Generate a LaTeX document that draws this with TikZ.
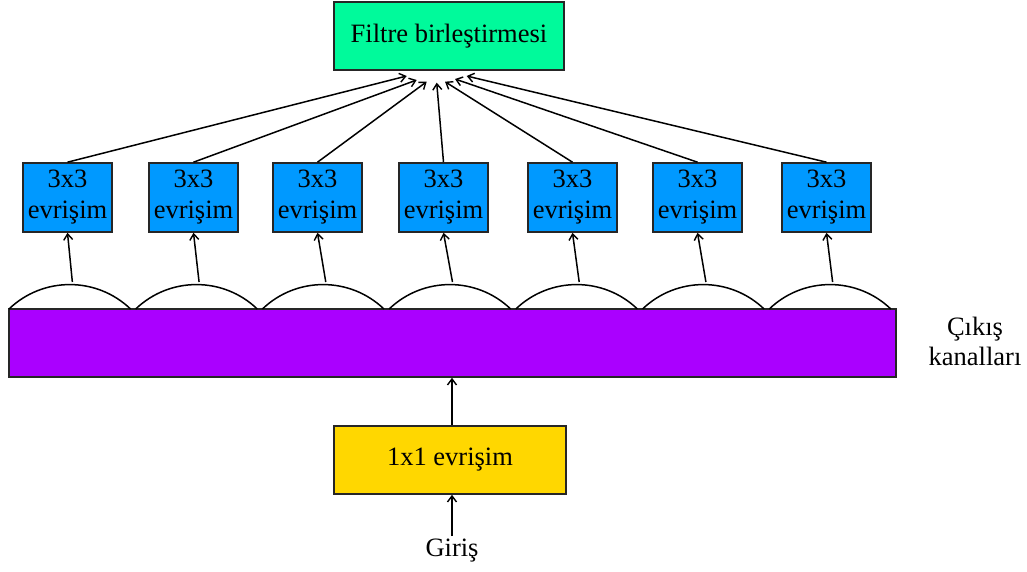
\documentclass[tikz,border=0pt]{standalone}
\usepackage{fontspec}
\setmainfont{Liberation Serif}
\usetikzlibrary{arrows.meta,calc}
\definecolor{mint}{RGB}{0,250,155}
\definecolor{skyblue}{RGB}{0,153,255}
\definecolor{violetbar}{RGB}{170,0,255}
\definecolor{goldbox}{RGB}{255,215,0}
\begin{document}
\begin{tikzpicture}[x=1pt,y=-1pt,
  every node/.style={font=\fontsize{26.5}{30}\selectfont, inner sep=0pt},
  boxst/.style={draw=black!85, line width=1.6pt},
  conv/.style={boxst, fill=skyblue, minimum width=89pt, minimum height=69pt, align=center},
  arr/.style={-{Straight Barb[length=6pt,width=9pt,line width=1.4pt]}, line width=1.5pt},
  arcst/.style={line width=1.5pt}]
\useasboundingbox (0,0) rectangle (1027,572);
% top box
\node[boxst, fill=mint, minimum width=230pt, minimum height=68pt] (top) at (449,36) {Filtre birleştirmesi};
% 3x3 boxes
\foreach \i/\x in {1/67.5,2/193.5,3/317.5,4/443.5,5/572.5,6/697.5,7/826.5}{
  \node[conv] (b\i) at (\x,197.5) {3x3\\[1pt]evrişim};
}
% arrow targets under the top box
\coordinate (t1) at (406.7,76);
\coordinate (t2) at (416.7,80);
\coordinate (t3) at (426.7,81.7);
\coordinate (t4) at (436.7,82.7);
\coordinate (t5) at (445,81.7);
\coordinate (t6) at (455,79);
\coordinate (t7) at (466.7,76);
\foreach \i in {1,...,7}{ \draw[arr] (b\i.north) -- (t\i); }
% purple bar
\node[boxst, fill=violetbar, minimum width=887pt, minimum height=68pt] (bar) at (452.5,343) {};
% arcs
\foreach \i in {1,...,7}{
  \pgfmathsetmacro{\xl}{9+126.71*(\i-1)}
  \pgfmathsetmacro{\xc}{9+126.71*(\i-0.5)}
  \draw[arcst] (\xl,309) arc[start angle=-133.8, end angle=-46.2, radius=87.8];
  \coordinate (a\i) at (\xc,282);
  \draw[arr] (a\i) -- (b\i.south);
}
% 1x1 box
\node[boxst, fill=goldbox, minimum width=232pt, minimum height=68pt] (one) at (450,460) {1x1 evrişim};
\draw[arr] ($(one.north)+(2,0)$) coordinate (onetop) -- (onetop |- bar.south);
% input
\node (giris) at (452,551) {Giriş};
\draw[arr] ($(giris.north)+(0,-3)$) -- ($(one.south)+(2,0)$);
% output label
\node[align=center] (cikis) at (975,341) {Çıkış\\[0pt]kanalları};
\end{tikzpicture}
\end{document}
